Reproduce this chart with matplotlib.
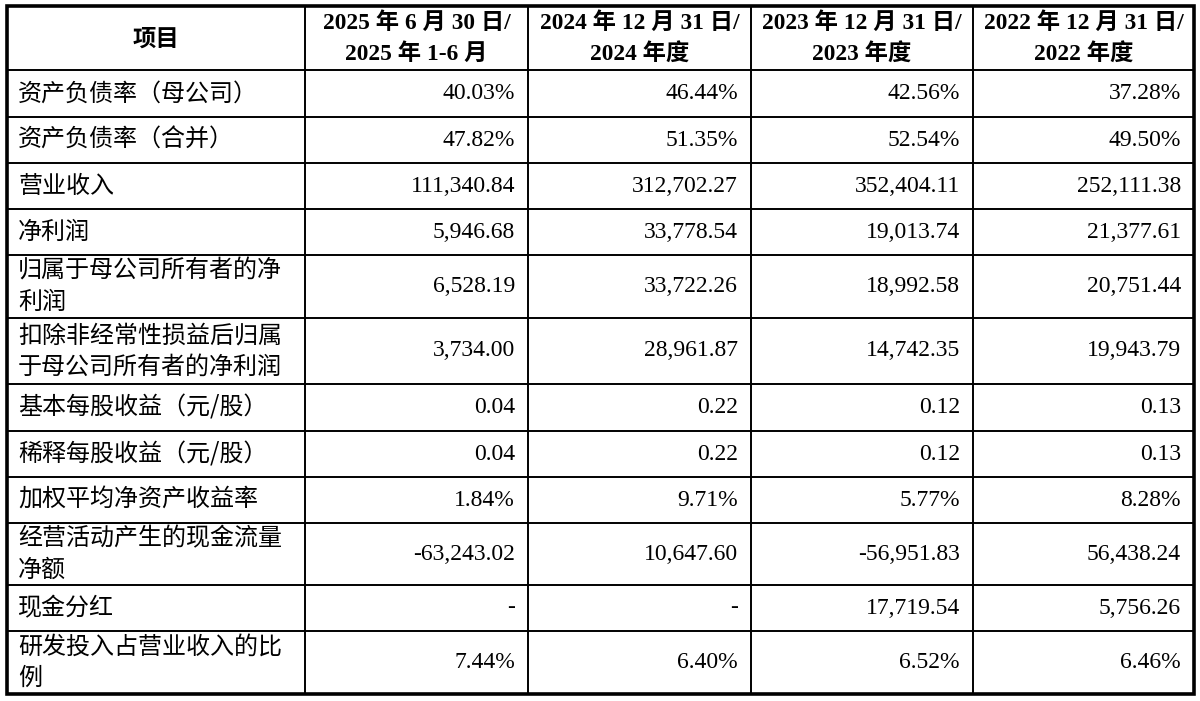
#coding:utf-8
# 主要财务指标表格（用matplotlib画表）
import matplotlib
matplotlib.use('Agg')
import matplotlib.pyplot as plt

# 表头
headers = ['项目',
           '2025 年 6 月 30 日/\n2025 年 1-6 月',
           '2024 年 12 月 31 日/\n2024 年度',
           '2023 年 12 月 31 日/\n2023 年度',
           '2022 年 12 月 31 日/\n2022 年度']

# 项目名称
items = ['资产负债率（母公司）',
         '资产负债率（合并）',
         '营业收入',
         '净利润',
         '归属于母公司所有者的净\n利润',
         '扣除非经常性损益后归属\n于母公司所有者的净利润',
         '基本每股收益（元/股）',
         '稀释每股收益（元/股）',
         '加权平均净资产收益率',
         '经营活动产生的现金流量\n净额',
         '现金分红',
         '研发投入占营业收入的比\n例']

# 各期数据
v2025h1 = ['40.03%', '47.82%', '111,340.84', '5,946.68', '6,528.19', '3,734.00',
           '0.04', '0.04', '1.84%', '-63,243.02', '-', '7.44%']
v2024 = ['46.44%', '51.35%', '312,702.27', '33,778.54', '33,722.26', '28,961.87',
         '0.22', '0.22', '9.71%', '10,647.60', '-', '6.40%']
v2023 = ['42.56%', '52.54%', '352,404.11', '19,013.74', '18,992.58', '14,742.35',
         '0.12', '0.12', '5.77%', '-56,951.83', '17,719.54', '6.52%']
v2022 = ['37.28%', '49.50%', '252,111.38', '21,377.61', '20,751.44', '19,943.79',
         '0.13', '0.13', '8.28%', '56,438.24', '5,756.26', '6.46%']
columns = [v2025h1, v2024, v2023, v2022]

# 版面（像素）
col_x = [7, 305, 528, 751, 973, 1194]
row_y = [6, 70, 117, 163, 209, 255, 318, 384, 431, 477, 523, 585, 631, 694]

cn_font = ['Noto Sans CJK SC', 'DejaVu Sans']
num_font = ['Liberation Serif', 'Noto Sans CJK SC', 'DejaVu Sans']
fs = 16.5
fs_label = 17.3
line_gap = 31

fig = plt.figure(figsize=(12, 7.01), dpi=100)
ax = fig.add_axes([0, 0, 1, 1])
ax.set_xlim(0, 1200)
ax.set_ylim(701, 0)
ax.axis('off')

# 格线
for x in col_x[1:-1]:
    ax.plot([x, x], [row_y[0], row_y[-1]], color='black', lw=1.4)
for y in row_y[1:-1]:
    ax.plot([col_x[0], col_x[-1]], [y, y], color='black', lw=1.4)
ax.add_patch(plt.Rectangle((col_x[0], row_y[0]), col_x[-1] - col_x[0], row_y[-1] - row_y[0],
                           fill=False, edgecolor='black', lw=2.6))

def draw_lines(text, x, yc, ha, family, size, weight='normal'):
    parts = text.split('\n')
    n = len(parts)
    for k, p in enumerate(parts):
        y = yc + (k - (n - 1) / 2) * line_gap
        ax.text(x, y, p, ha=ha, va='center', fontsize=size, family=family,
                fontweight=weight, color='black')

# 表头
hy = (row_y[0] + row_y[1]) / 2 + 1
for j, h in enumerate(headers):
    cx = (col_x[j] + col_x[j + 1]) / 2
    draw_lines(h, cx, hy, 'center', num_font if j > 0 else cn_font, fs + 0.3, 'bold')

# 数据行
for i, name in enumerate(items):
    yc = (row_y[i + 1] + row_y[i + 2]) / 2
    draw_lines(name, col_x[0] + 11, yc, 'left', cn_font, fs_label)
    for j, col in enumerate(columns):
        ax.text(col_x[j + 2] - 13, yc, col[i], ha='right', va='center', fontsize=fs + 0.5,
                family=num_font, color='black')

fig.savefig('out.png', dpi=100, facecolor='white')
